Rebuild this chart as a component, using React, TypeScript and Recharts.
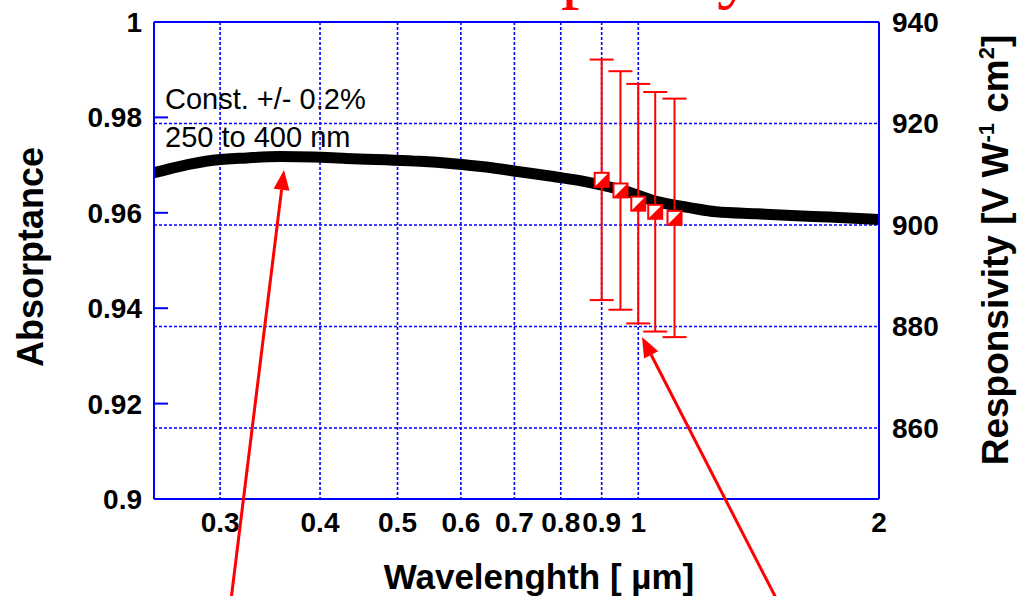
import React from 'react';
import { ComposedChart, Line, Scatter, ErrorBar, XAxis, YAxis, CartesianGrid, ReferenceLine, Label } from 'recharts';

// black curve: absorptance vs wavelength (um)
const wavelengths = [0.248, 0.2665, 0.294, 0.324, 0.356, 0.392, 0.431, 0.484, 0.533, 0.587, 0.645, 0.71, 0.783, 0.861, 0.966, 1.053, 1.158, 1.252, 1.405, 1.576, 1.733, 2.0];
const absorptance = [0.9684, 0.9697, 0.971, 0.9715, 0.9718, 0.9717, 0.9714, 0.9711, 0.9708, 0.9703, 0.9696, 0.9686, 0.9676, 0.9665, 0.9645, 0.9624, 0.9611, 0.9602, 0.9598, 0.9594, 0.9591, 0.9586];

// red points: responsivity with error bars
const respWavelengths = [0.9, 0.95, 1.0, 1.05, 1.11];
const responsivity = [908.9, 906.8, 904.2, 902.6, 901.4];
const respError = [23.7, 23.5, 23.6, 23.6, 23.5];

const xTicks = [0.3, 0.4, 0.5, 0.6, 0.7, 0.8, 0.9, 1, 2];
const leftTicks = [0.9, 0.92, 0.94, 0.96, 0.98, 1];
const rightTicks = [860, 880, 900, 920, 940];

const curveData = wavelengths.map((w, i) => ({ w, a: absorptance[i] }));
const respData = respWavelengths.map((w, i) => ({ w, r: responsivity[i], e: respError[i] }));

const FONT = '"Liberation Sans", Arial, Helvetica, sans-serif';
const BLUE = '#0000ff';
const RED = '#ff0000';
const PLOT_LEFT = 154;
const PLOT_RIGHT = 879;
const PLOT_BOTTOM = 499;

const LeftTick = (props: any) => {
  const { y, payload } = props;
  return (
    <g>
      <line x1={PLOT_LEFT} x2={PLOT_LEFT + 14} y1={y} y2={y} stroke={BLUE} strokeWidth={2} />
      <text x={PLOT_LEFT - 12} y={y} dy={10} textAnchor="end" fontFamily={FONT} fontWeight="bold" fontSize={28} fill="#000">
        {payload.value}
      </text>
    </g>
  );
};

const RightTick = (props: any) => {
  const { y, payload } = props;
  return (
    <text x={PLOT_RIGHT + 13} y={y} dy={10} textAnchor="start" fontFamily={FONT} fontWeight="bold" fontSize={28} fill="#000">
      {payload.value}
    </text>
  );
};

const BottomTick = (props: any) => {
  const { x, payload } = props;
  return (
    <text x={x} y={PLOT_BOTTOM + 33} textAnchor="middle" fontFamily={FONT} fontWeight="bold" fontSize={28} fill="#000">
      {payload.value}
    </text>
  );
};

const HalfSquare = (props: any) => {
  const { cx, cy } = props;
  const s = 7;
  return (
    <g>
      <rect x={cx - s} y={cy - s} width={2 * s} height={2 * s} fill="#fff" stroke={RED} strokeWidth={2} />
      <polygon points={`${cx - s},${cy + s} ${cx + s},${cy - s} ${cx + s},${cy + s}`} fill={RED} />
    </g>
  );
};

const Arrow = ({ from, to }: { from: number[]; to: number[] }) => {
  const dx = to[0] - from[0];
  const dy = to[1] - from[1];
  const len = Math.sqrt(dx * dx + dy * dy);
  const ux = dx / len;
  const uy = dy / len;
  const bx = to[0] - ux * 20;
  const by = to[1] - uy * 20;
  const nx = -uy * 8;
  const ny = ux * 8;
  return (
    <g>
      <line x1={from[0]} y1={from[1]} x2={bx} y2={by} stroke={RED} strokeWidth={3} />
      <polygon points={`${to[0]},${to[1]} ${bx + nx},${by + ny} ${bx - nx},${by - ny}`} fill={RED} />
    </g>
  );
};

export default function App() {
  return (
    <div style={{ position: 'absolute', left: 0, top: 0, width: 1017, height: 596, background: '#fff' }}>
      <ComposedChart width={1017} height={596} margin={{ top: 22, right: 0, bottom: 0, left: 0 }}>
        <CartesianGrid yAxisId="right" stroke={BLUE} strokeWidth={1.6} strokeDasharray="3 2" />
        <XAxis
          dataKey="w"
          type="number"
          scale="log"
          domain={[0.248, 2]}
          ticks={xTicks}
          allowDataOverflow
          height={97}
          axisLine={{ stroke: BLUE, strokeWidth: 2 }}
          tickLine={false}
          tick={BottomTick}
        >
          <Label
            content={() => (
              <text x={539} y={589} textAnchor="middle" fontFamily={FONT} fontWeight="bold" fontSize={35} fill="#000">
                Wavelenghth [ µm]
              </text>
            )}
          />
        </XAxis>
        <YAxis
          yAxisId="left"
          orientation="left"
          type="number"
          domain={[0.9, 1]}
          ticks={leftTicks}
          width={154}
          axisLine={{ stroke: BLUE, strokeWidth: 2 }}
          tickLine={false}
          tick={LeftTick}
        >
          <Label
            content={() => (
              <text transform="translate(43,257) rotate(-90)" textAnchor="middle" fontFamily={FONT} fontWeight="bold" fontSize={36} fill="#000">
                Absorptance
              </text>
            )}
          />
        </YAxis>
        <YAxis
          yAxisId="right"
          orientation="right"
          type="number"
          domain={[846, 940]}
          ticks={rightTicks}
          width={138}
          axisLine={{ stroke: BLUE, strokeWidth: 2 }}
          tickLine={false}
          tick={RightTick}
        >
          <Label
            content={() => (
              <text transform="translate(1008,250) rotate(-90)" textAnchor="middle" fontFamily={FONT} fontWeight="bold" fontSize={37} fill="#000">
                Responsivity [V W<tspan dy={-14} fontSize={22}>-1</tspan>
                <tspan dy={14}> cm</tspan>
                <tspan dy={-14} fontSize={22}>2</tspan>
                <tspan dy={14}>]</tspan>
              </text>
            )}
          />
        </YAxis>
        <ReferenceLine yAxisId="left" y={1} stroke={BLUE} strokeWidth={2} />
        <Line
          data={curveData}
          dataKey="a"
          yAxisId="left"
          type="monotone"
          stroke="#000"
          strokeWidth={11}
          strokeLinecap="round"
          dot={false}
          isAnimationActive={false}
        />
        <Scatter data={respData} dataKey="r" yAxisId="right" shape={HalfSquare} isAnimationActive={false}>
          <ErrorBar dataKey="e" direction="y" width={12} stroke={RED} strokeWidth={2} isAnimationActive={false} />
        </Scatter>
      </ComposedChart>
      <svg width={1017} height={596} style={{ position: 'absolute', left: 0, top: 0, pointerEvents: 'none' }}>
        <text x={380} y={-6} fontFamily='"Liberation Serif", "Times New Roman", serif' fontSize={74} fill={RED}>
          Absorptivity
        </text>
        <text x={165} y={109} fontFamily={FONT} fontSize={29} fill="#000">
          Const. +/- 0.2%
        </text>
        <text x={165} y={147} fontFamily={FONT} fontSize={29} fill="#000">
          250 to 400 nm
        </text>
        <Arrow from={[231, 600]} to={[284, 170]} />
        <Arrow from={[777, 600]} to={[642, 337]} />
      </svg>
    </div>
  );
}
